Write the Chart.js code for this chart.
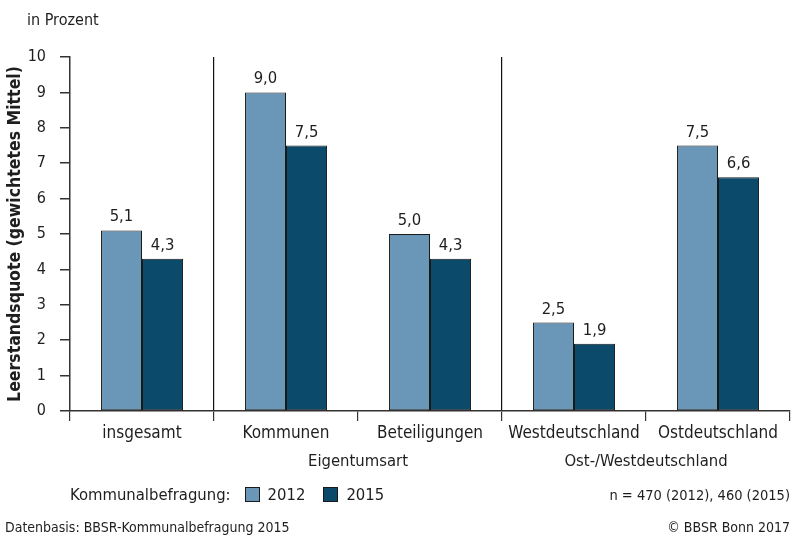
<!DOCTYPE html>
<html>
<head>
<meta charset="utf-8">
<script src="https://cdn.jsdelivr.net/npm/chart.js@4/dist/chart.umd.min.js"></script>
<style>
  html, body { margin: 0; padding: 0; background: #fff; }
  #wrap { position: relative; width: 793px; height: 537px; overflow: hidden;
          font-family: 'Liberation Sans Narrow', 'DejaVu Sans Condensed', Roboto, sans-serif; color: #1e1e1e; }
  #chart { position: absolute; left: 0; top: 0; }
  .t { position: absolute; white-space: nowrap; font-size: 14px; line-height: 16px; }
  .box { display: inline-block; width: 13px; height: 13px; border: 1px solid #1a1a1a; vertical-align: -2px; margin-right: 8px; }
</style>
</head>
<body>
<div id="wrap">
  <canvas id="chart" width="793" height="537"></canvas>
  <div class="t" style="left:27px; top:12px; font-size:16px;">in Prozent</div>
  <div class="t" id="legend" style="left:70px; top:487px; font-size:16.5px;"></div>
  <div class="t" style="right:3px; top:487px; font-size:14.5px;">n = 470 (2012), 460 (2015)</div>
  <div class="t" style="left:5px; top:519px;">Datenbasis: BBSR-Kommunalbefragung 2015</div>
  <div class="t" style="right:3px; top:519px;">© BBSR Bonn 2017</div>
</div>
<script>
// — Daten —
const categories  = ['insgesamt', 'Kommunen', 'Beteiligungen', 'Westdeutschland', 'Ostdeutschland'];
const values2012  = [5.1, 9.0, 5.0, 2.5, 7.5];
const values2015  = [4.3, 7.5, 4.3, 1.9, 6.6];
const seriesNames = ['2012', '2015'];
const seriesColors = ['#6a96b8', '#0b4a6b'];
const yTicks      = [0, 1, 2, 3, 4, 5, 6, 7, 8, 9, 10];
const groupLabels = ['Eigentumsart', 'Ost-/Westdeutschland'];
const groupSpans  = [[1, 2], [3, 4]];
const separatorIdx = [1, 3];   // Trennlinien zwischen Gruppen

const FONT = "'Liberation Sans Narrow', 'DejaVu Sans Condensed', Roboto, sans-serif";
const INK  = '#1e1e1e';
const AXIS = '#333';

Chart.defaults.font.family = FONT;
Chart.defaults.color = INK;

// — Legende (HTML) —
const legendEl = document.getElementById('legend');
legendEl.innerHTML = '<span style="margin-right:14px">Kommunalbefragung:</span>' +
  seriesNames.map((n, i) =>
    `<span style="margin-right:18px"><span class="box" style="background:${seriesColors[i]}"></span>${n}</span>`
  ).join('');

const fmt = v => v.toFixed(1).replace('.', ',');

// — Werte über den Balken, Gruppentitel, Achsentitel —
const extras = {
  id: 'extras',
  afterDatasetsDraw(chart) {
    const ctx = chart.ctx;
    ctx.save();
    ctx.fillStyle = INK;
    ctx.font = `16.5px ${FONT}`;
    ctx.textAlign = 'center';
    ctx.textBaseline = 'bottom';
    chart.data.datasets.forEach((ds, di) => {
      chart.getDatasetMeta(di).data.forEach((bar, i) => {
        ctx.fillText(fmt(ds.data[i]), bar.x, bar.y - 5);
      });
    });

    const xs = chart.scales.x;
    ctx.textBaseline = 'middle';
    groupLabels.forEach((g, k) => {
      const [a, b] = groupSpans[k];
      const cx = (xs.getPixelForValue(a) + xs.getPixelForValue(b)) / 2;
      ctx.fillText(g, cx, 462);
    });

    const area = chart.chartArea;
    ctx.translate(15, (area.top + area.bottom) / 2);
    ctx.rotate(-Math.PI / 2);
    ctx.font = `bold 17.5px ${FONT}`;
    ctx.fillText('Leerstandsquote (gewichtetes Mittel)', 0, 0);
    ctx.restore();
  }
};

new Chart(document.getElementById('chart'), {
  type: 'bar',
  data: {
    labels: categories,
    datasets: [values2012, values2015].map((d, i) => ({
      label: seriesNames[i],
      data: d,
      backgroundColor: seriesColors[i],
      borderColor: '#1a1a1a',
      borderWidth: 1,
      borderSkipped: false,
      categoryPercentage: 0.57,
      barPercentage: 1.0
    }))
  },
  options: {
    responsive: false,
    animation: false,
    events: [],
    layout: { padding: { top: 57, right: 3, left: 0, bottom: 0 } },
    plugins: { legend: { display: false }, tooltip: { enabled: false } },
    scales: {
      x: {
        afterFit: s => { s.height = 126; },
        grid: {
          offset: true,
          drawOnChartArea: true,
          color: c => separatorIdx.includes(c.index) ? '#111' : 'rgba(0,0,0,0)',
          lineWidth: 1.2,
          tickColor: AXIS,
          tickLength: 10
        },
        border: { color: AXIS, width: 1.5 },
        ticks: { font: { size: 17 }, color: INK, padding: 2, maxRotation: 0 }
      },
      y: {
        min: 0,
        max: 10,
        afterFit: s => { s.width = 70; },
        afterBuildTicks: s => { s.ticks = yTicks.map(v => ({ value: v })); },
        grid: { drawOnChartArea: false, tickColor: AXIS, tickLength: 10, lineWidth: 1.5 },
        border: { color: AXIS, width: 1.5 },
        ticks: { font: { size: 16 }, color: INK, padding: 14 }
      }
    }
  },
  plugins: [extras]
});
</script>
</body>
</html>
